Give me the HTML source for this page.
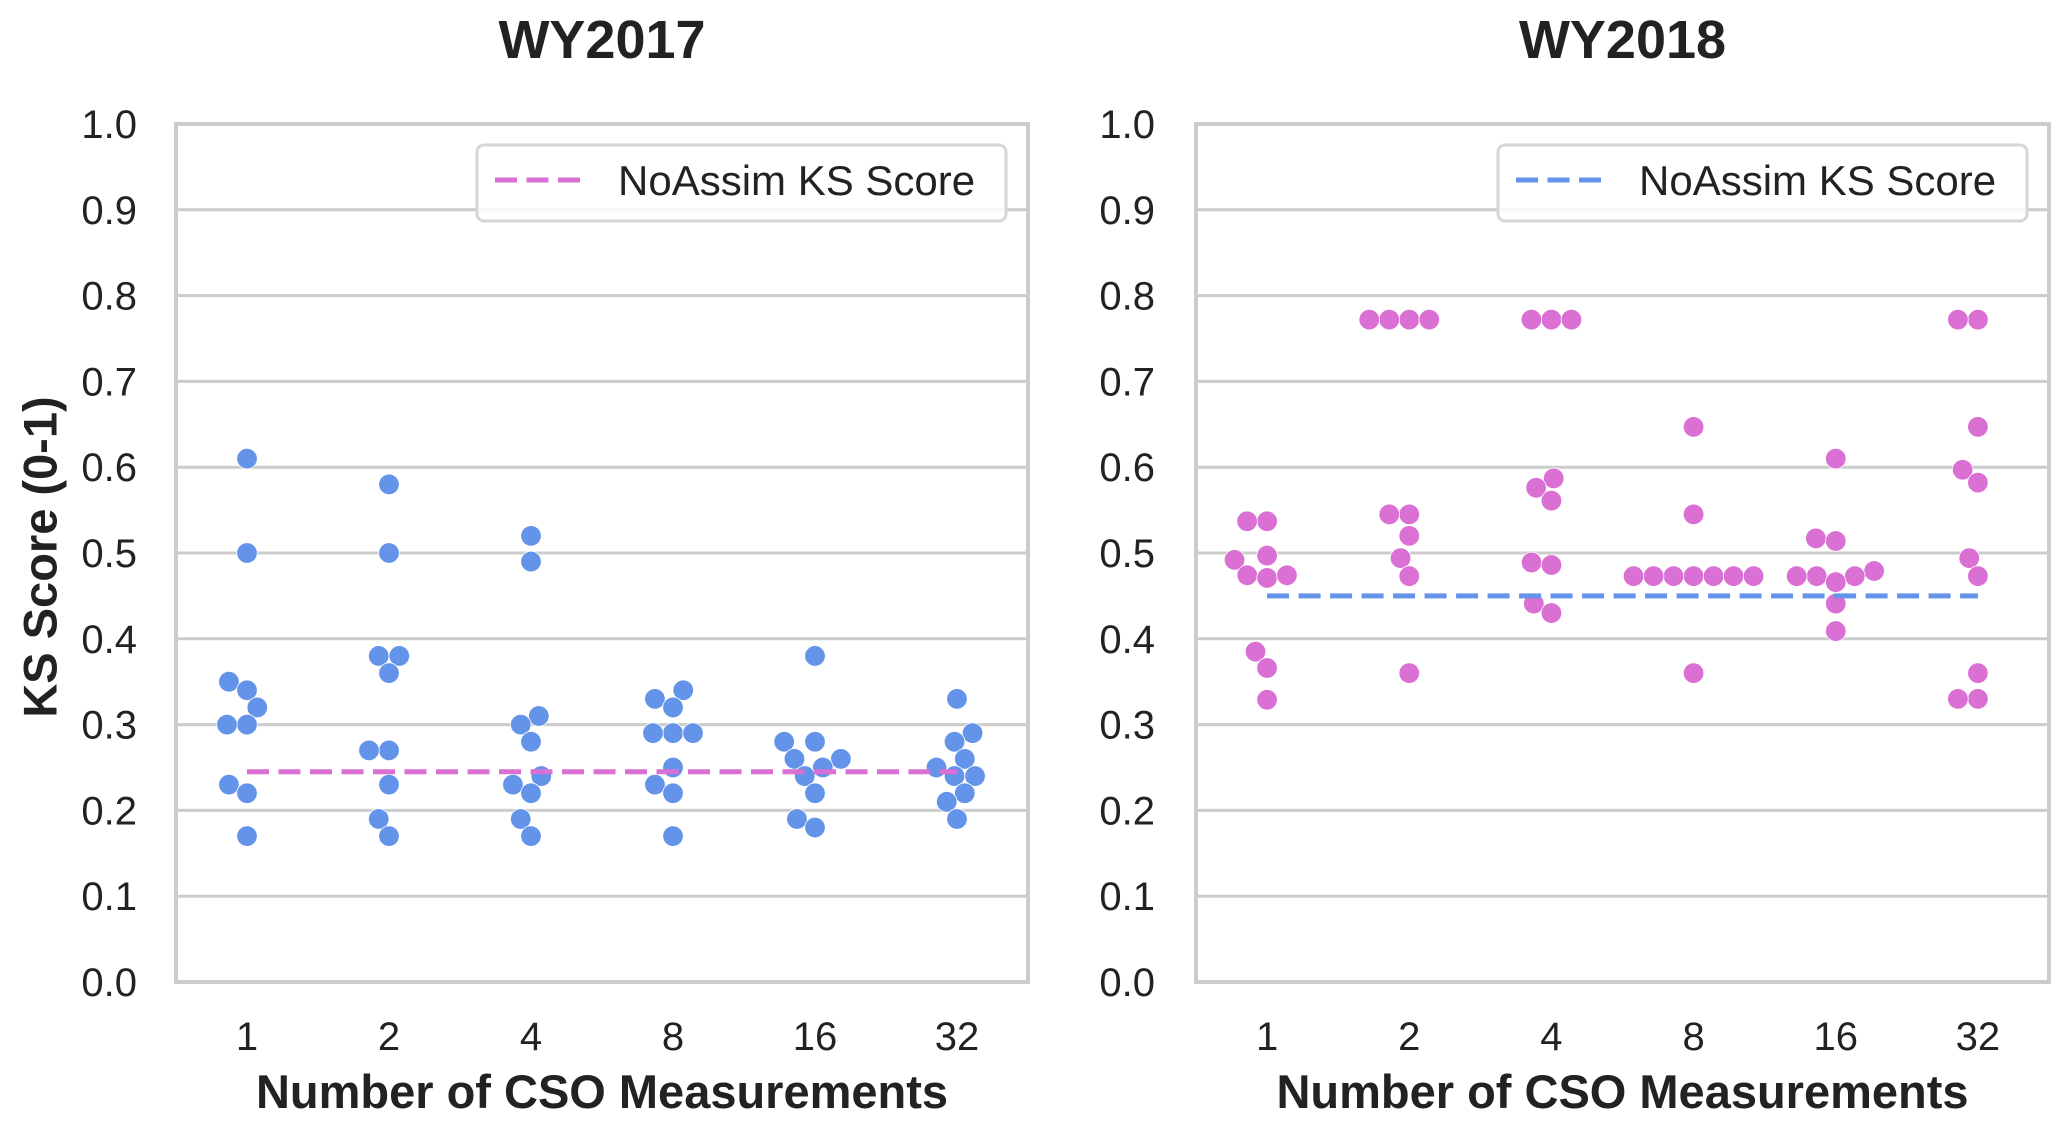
<!DOCTYPE html>
<html><head><meta charset="utf-8">
<style>
html,body{margin:0;padding:0;background:#fff;}
svg{display:block;font-family:"Liberation Sans",Arial,sans-serif;}
</style></head>
<body>
<svg id="chart" width="2067" height="1127" viewBox="0 0 2067 1127" xmlns="http://www.w3.org/2000/svg">
<text x="40" y="557" transform="rotate(-90 40 557)" text-anchor="middle" dominant-baseline="central" font-weight="bold" font-size="47" fill="#222">KS Score (0-1)</text>
</svg>
<script>
const categories = ["1","2","4","8","16","32"];
const yTicks = [0,0.1,0.2,0.3,0.4,0.5,0.6,0.7,0.8,0.9,1.0];
const yTickLabels = ["0.0","0.1","0.2","0.3","0.4","0.5","0.6","0.7","0.8","0.9","1.0"];
const titles = ["WY2017","WY2018"];
const baseline2017 = 0.245;
const baseline2018 = 0.45;
const scores2017 = [
  [0.61,0.50,0.35,0.34,0.32,0.30,0.30,0.23,0.22,0.17],
  [0.58,0.50,0.38,0.38,0.36,0.27,0.27,0.23,0.19,0.17],
  [0.52,0.49,0.31,0.30,0.28,0.24,0.23,0.22,0.19,0.17],
  [0.34,0.33,0.32,0.29,0.29,0.29,0.25,0.23,0.22,0.17],
  [0.38,0.28,0.28,0.26,0.26,0.25,0.24,0.22,0.19,0.18],
  [0.33,0.29,0.28,0.26,0.25,0.24,0.24,0.22,0.21,0.19]
];
const scores2018 = [
  [0.537,0.537,0.497,0.492,0.474,0.471,0.474,0.385,0.366,0.329],
  [0.772,0.772,0.772,0.772,0.545,0.545,0.52,0.494,0.473,0.36],
  [0.772,0.772,0.772,0.587,0.576,0.561,0.489,0.486,0.441,0.43],
  [0.647,0.545,0.473,0.473,0.473,0.473,0.473,0.473,0.473,0.36],
  [0.61,0.517,0.514,0.479,0.473,0.473,0.473,0.466,0.441,0.409],
  [0.772,0.772,0.647,0.597,0.582,0.494,0.473,0.36,0.33,0.33]
];

const NS = "http://www.w3.org/2000/svg";
const svg = document.getElementById("chart");
function mk(tag, attrs, parent){
  const e = document.createElementNS(NS, tag);
  for (const k in attrs) e.setAttribute(k, attrs[k]);
  (parent||svg).appendChild(e);
  return e;
}
const TOP = 124, BOT = 982;
function yScale(v){ return BOT - v*(BOT-TOP); }

function swarm(values, d){
  const idx = values.map((v,i)=>i).sort((a,b)=>values[a]-values[b]);
  const placed = [];
  const out = new Array(values.length);
  idx.forEach(i=>{
    const y = yScale(values[i]);
    const cands = [0];
    placed.forEach(p=>{
      const dy = Math.abs(p.y-y);
      if (dy < d){ const dx = Math.sqrt(d*d-dy*dy); cands.push(p.x+dx, p.x-dx); }
    });
    cands.sort((a,b)=>Math.abs(a)-Math.abs(b) || a-b);
    let chosen = 0;
    for (const c of cands){
      let ok = true;
      for (const p of placed){
        if ((p.x-c)*(p.x-c)+(p.y-y)*(p.y-y) < d*d-0.5){ ok=false; break; }
      }
      if (ok){ chosen=c; break; }
    }
    placed.push({x:chosen,y:y});
    out[i] = {x:chosen,y:y};
  });
  return out;
}

function panel(p, L, R, tickRight, title, data, baseline, dotColor, lineColor){
  const g = mk("g", {});
  
  
  const bw = (R-L)/categories.length;
  const xScale = i => L + bw*(i+0.5);
  yTicks.forEach((t,i)=>{
    const gl = mk("line", {x1:L, x2:R, y1:yScale(t), y2:yScale(t), stroke:"#cccccc", "stroke-width":3}, g);
    
    
    const tl = mk("text", {x:tickRight, y:yScale(t)+14, "text-anchor":"end", "font-size":40, fill:"#222"}, g);
    tl.textContent = yTickLabels[i];
    
    
  });
  const fr = mk("rect", {x:L, y:TOP, width:R-L, height:BOT-TOP, fill:"none", stroke:"#cccccc", "stroke-width":4}, g);
  
  
  categories.forEach((c,i)=>{
    const t = mk("text", {x:xScale(i), y:1050, "text-anchor":"middle", "font-size":40, fill:"#222"}, g);
    t.textContent = c;
    
    
  });
  const xl = mk("text", {x:(L+R)/2, y:1108, "text-anchor":"middle", "font-size":47, "font-weight":"bold", fill:"#222"}, g);
  xl.textContent = "Number of CSO Measurements";
  
  
  const tt = mk("text", {x:(L+R)/2, y:58, "text-anchor":"middle", "font-size":54, "font-weight":"bold", fill:"#222"}, g);
  tt.textContent = title;
  
  
  data.forEach((vals,ci)=>{
    const pos = swarm(vals, 20);
    vals.forEach((v,j)=>{
      const c = mk("circle", {cx:xScale(ci)+pos[j].x, cy:yScale(v), r:10.3, fill:dotColor, stroke:"#fff", "stroke-width":0.8}, g);
      
      
    });
  });
  const bl = mk("line", {x1:xScale(0), x2:xScale(categories.length-1), y1:yScale(baseline), y2:yScale(baseline), stroke:lineColor, "stroke-width":5, "stroke-dasharray":"22 9.5"}, g);
  
  
  const lx = R - 551;
  const lb = mk("rect", {x:lx, y:145, width:529, height:76, rx:7, fill:"#fff", "fill-opacity":0.85, stroke:"#d6d6d6", "stroke-width":3}, g);
  
  
  const ll = mk("line", {x1:lx+18, x2:lx+103, y1:180, y2:180, stroke:lineColor, "stroke-width":5, "stroke-dasharray":"22 9.5"}, g);
  
  
  const lt = mk("text", {x:lx+141, y:195, "font-size":42, fill:"#222"}, g);
  lt.textContent = "NoAssim KS Score";
  
  
}
panel(0, 176, 1028, 137, titles[0], scores2017, baseline2017, "#6394ea", "#da6fd4");
panel(1, 1196, 2049, 1155, titles[1], scores2018, baseline2018, "#da6fd4", "#6394ea");
</script>
</body></html>
